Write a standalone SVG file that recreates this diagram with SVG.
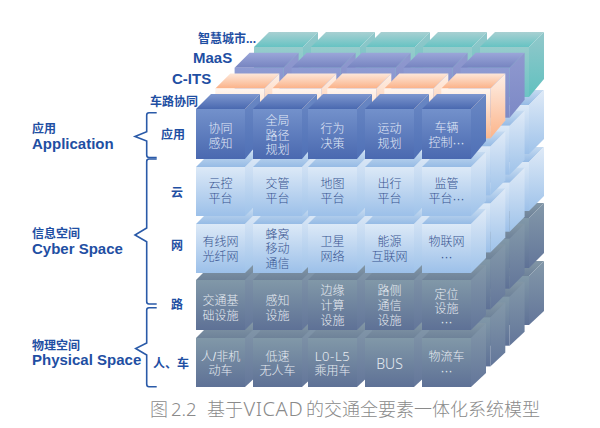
<svg xmlns="http://www.w3.org/2000/svg" xmlns:xlink="http://www.w3.org/1999/xlink" width="600" height="428" viewBox="0 0 600 428">
<style>
text{font-family:"Liberation Sans","Noto Sans CJK SC",sans-serif}
.h{fill:#1f4fa3;font-weight:700;font-size:12px}
.en{fill:#1f4fa3;font-weight:700;font-size:15px}
.t{font-size:12px;text-anchor:middle;font-weight:300}
.a{fill:#e2e9f7}.s{fill:#37538f}.r{fill:#e6ebf1}
text.lat{font-family:"Noto Sans",sans-serif}
.brace{fill:none;stroke:#2a5aa8;stroke-width:1.6}
text.cap{font-family:"Noto Sans","Noto Sans CJK SC",sans-serif;fill:#8a8a8a;font-size:18px;font-weight:300}
</style>
<defs>
<linearGradient id="afr" x1="0" y1="0" x2="0" y2="1"><stop offset="0" stop-color="#7391cb"/><stop offset="1" stop-color="#4a69b0"/></linearGradient>
<linearGradient id="atp" x1="0" y1="0" x2="0" y2="1"><stop offset="0" stop-color="#7e97cf"/><stop offset="1" stop-color="#4a69b0"/></linearGradient>
<linearGradient id="asd" x1="0" y1="0" x2="0" y2="1"><stop offset="0" stop-color="#6a88c4"/><stop offset="1" stop-color="#4f70b6"/></linearGradient>
<linearGradient id="ofr" x1="0" y1="0" x2="0" y2="1"><stop offset="0" stop-color="#fff6f0"/><stop offset="1" stop-color="#fbb78e"/></linearGradient>
<linearGradient id="otp" x1="0" y1="0" x2="0" y2="1"><stop offset="0" stop-color="#fde8da"/><stop offset="1" stop-color="#fbb288"/></linearGradient>
<linearGradient id="osd" x1="0" y1="0" x2="0" y2="1"><stop offset="0" stop-color="#fef0e7"/><stop offset="1" stop-color="#fbb48a"/></linearGradient>
<linearGradient id="pfr" x1="0" y1="0" x2="0" y2="1"><stop offset="0" stop-color="#8e9bd2"/><stop offset="1" stop-color="#7d8ac5"/></linearGradient>
<linearGradient id="ptp" x1="0" y1="0" x2="0" y2="1"><stop offset="0" stop-color="#9ba6d9"/><stop offset="1" stop-color="#7684c0"/></linearGradient>
<linearGradient id="psd" x1="0" y1="0" x2="0" y2="1"><stop offset="0" stop-color="#9099cf"/><stop offset="1" stop-color="#7c89c6"/></linearGradient>
<linearGradient id="tfr" x1="0" y1="0" x2="0" y2="1"><stop offset="0" stop-color="#97cccc"/><stop offset="1" stop-color="#6cc4c4"/></linearGradient>
<linearGradient id="ttp" x1="0" y1="0" x2="0" y2="1"><stop offset="0" stop-color="#a9d0d2"/><stop offset="1" stop-color="#66c3c3"/></linearGradient>
<linearGradient id="tsd" x1="0" y1="0" x2="0" y2="1"><stop offset="0" stop-color="#93c8cb"/><stop offset="1" stop-color="#60c1bf"/></linearGradient>
<linearGradient id="sfr" x1="0" y1="0" x2="0" y2="1"><stop offset="0" stop-color="#dce9f7"/><stop offset="1" stop-color="#9cc0e9"/></linearGradient>
<linearGradient id="stp" x1="0" y1="0" x2="0" y2="1"><stop offset="0" stop-color="#c6dbf1"/><stop offset="1" stop-color="#96bbe5"/></linearGradient>
<linearGradient id="ssd" x1="0" y1="0" x2="0" y2="1"><stop offset="0" stop-color="#dfeaf7"/><stop offset="1" stop-color="#9fc3ea"/></linearGradient>
<linearGradient id="rfr" x1="0" y1="0" x2="0" y2="1"><stop offset="0" stop-color="#8198a8"/><stop offset="1" stop-color="#5e7196"/></linearGradient>
<linearGradient id="rtp" x1="0" y1="0" x2="0" y2="1"><stop offset="0" stop-color="#8397a6"/><stop offset="1" stop-color="#6e8299"/></linearGradient>
<linearGradient id="rsd" x1="0" y1="0" x2="0" y2="1"><stop offset="0" stop-color="#8398a9"/><stop offset="1" stop-color="#63769a"/></linearGradient>

<g id="bA"><polygon points="0,0 15,-15 64,-15 49,0" fill="url(#atp)"/><polygon points="49,0 64,-15 64,32 49,50" fill="url(#asd)"/><rect width="49" height="50" fill="url(#afr)"/></g>
<g id="bO"><polygon points="0,0 15,-15 64,-15 49,0" fill="url(#otp)"/><polygon points="49,0 64,-15 64,32 49,50" fill="url(#osd)"/><rect width="49" height="50" fill="url(#ofr)"/></g>
<g id="bP"><polygon points="0,0 15,-15 64,-15 49,0" fill="url(#ptp)"/><polygon points="49,0 64,-15 64,32 49,50" fill="url(#psd)"/><rect width="49" height="50" fill="url(#pfr)"/></g>
<g id="bT"><polygon points="0,0 15,-15 64,-15 49,0" fill="url(#ttp)"/><polygon points="49,0 64,-15 64,32 49,50" fill="url(#tsd)"/><rect width="49" height="50" fill="url(#tfr)"/></g>
<g id="bS"><polygon points="0,0 15,-15 64,-15 49,0" fill="url(#stp)"/><polygon points="49,0 64,-15 64,34 49,49" fill="url(#ssd)"/><rect width="49" height="49" fill="url(#sfr)"/></g>
<g id="bR"><polygon points="0,0 15,-15 64,-15 49,0" fill="url(#rtp)"/><polygon points="49,0 64,-15 64,35 49,50" fill="url(#rsd)"/><rect width="49" height="50" fill="url(#rfr)"/></g>
<g id="bC"><polygon points="0,0 15,-15 64,-15 49,0" fill="url(#rtp)"/><polygon points="49,0 64,-15 64,35 49,49" fill="url(#rsd)"/><rect width="49" height="49" fill="url(#rfr)"/></g>

<g id="rowA"><use href="#bA"/><use href="#bA" x="57"/><use href="#bA" x="112"/><use href="#bA" x="169"/><use href="#bA" x="226"/></g>
<g id="rowO"><use href="#bO"/><use href="#bO" x="57"/><use href="#bO" x="112"/><use href="#bO" x="169"/><use href="#bO" x="226"/></g>
<g id="rowP"><use href="#bP"/><use href="#bP" x="57"/><use href="#bP" x="112"/><use href="#bP" x="169"/><use href="#bP" x="226"/></g>
<g id="rowT"><use href="#bT"/><use href="#bT" x="57"/><use href="#bT" x="112"/><use href="#bT" x="169"/><use href="#bT" x="226"/></g>
<g id="rowS"><use href="#bS"/><use href="#bS" x="57"/><use href="#bS" x="112"/><use href="#bS" x="169"/><use href="#bS" x="226"/></g>
<g id="rowR"><use href="#bR"/><use href="#bR" x="57"/><use href="#bR" x="112"/><use href="#bR" x="169"/><use href="#bR" x="226"/></g>
<g id="rowC"><use href="#bC"/><use href="#bC" x="57"/><use href="#bC" x="112"/><use href="#bC" x="169"/><use href="#bC" x="226"/></g>
<g id="lower"><use href="#rowC" x="196" y="338"/><use href="#rowR" x="196" y="280"/><use href="#rowS" x="196" y="224"/><use href="#rowS" x="196" y="167"/></g>
</defs>
<rect width="600" height="428" fill="#fff"/>

<g id="layer-smart-city" transform="translate(58,-62)"><use href="#lower"/><use href="#rowT" x="196" y="109"/></g>
<g id="layer-maas" transform="translate(38.6,-41.300)"><use href="#lower"/><use href="#rowP" x="196" y="109"/></g>
<g id="layer-c-its" transform="translate(19.3,-20.600)"><use href="#lower"/><use href="#rowO" x="196" y="109"/></g>

<g id="layer-front">
<g id="row-car">
<g id="c1"><use href="#bC" x="196" y="338"/><text class="t r" x="220.5" y="361">人/非机</text><text class="t r" x="220.5" y="375">动车</text></g>
<g id="c2"><use href="#bC" x="253" y="338"/><text class="t r" x="277.5" y="361">低速</text><text class="t r" x="277.5" y="375">无人车</text></g>
<g id="c3"><use href="#bC" x="308" y="338"/><text class="t r lat" x="332.5" y="361" style="font-size:13px;letter-spacing:.6px">L0-L5</text><text class="t r" x="332.5" y="375">乘用车</text></g>
<g id="c4"><use href="#bC" x="365" y="338"/><text class="t r lat" x="389.5" y="369" style="font-size:14px">BUS</text></g>
<g id="c5"><use href="#bC" x="422" y="338"/><text class="t r" x="446.5" y="361">物流车</text><text class="t r" x="446.5" y="375">···</text></g>
</g>
<g id="row-road">
<g id="r1"><use href="#bR" x="196" y="280"/><text class="t r" x="220.5" y="305">交通基</text><text class="t r" x="220.5" y="320">础设施</text></g>
<g id="r2"><use href="#bR" x="253" y="280"/><text class="t r" x="277.5" y="305">感知</text><text class="t r" x="277.5" y="320">设施</text></g>
<g id="r3"><use href="#bR" x="308" y="280"/><text class="t r" x="332.5" y="295">边缘</text><text class="t r" x="332.5" y="310">计算</text><text class="t r" x="332.5" y="325">设施</text></g>
<g id="r4"><use href="#bR" x="365" y="280"/><text class="t r" x="389.5" y="295">路侧</text><text class="t r" x="389.5" y="310">通信</text><text class="t r" x="389.5" y="325">设施</text></g>
<g id="r5"><use href="#bR" x="422" y="280"/><text class="t r" x="446.5" y="299">定位</text><text class="t r" x="446.5" y="313">设施</text><text class="t r" x="446.5" y="326">···</text></g>
</g>
<g id="row-net">
<g id="n1"><use href="#bS" x="196" y="224"/><text class="t s" x="220.5" y="246">有线网</text><text class="t s" x="220.5" y="261">光纤网</text></g>
<g id="n2"><use href="#bS" x="253" y="224"/><text class="t s" x="277.5" y="239">蜂窝</text><text class="t s" x="277.5" y="253">移动</text><text class="t s" x="277.5" y="268">通信</text></g>
<g id="n3"><use href="#bS" x="308" y="224"/><text class="t s" x="332.5" y="246">卫星</text><text class="t s" x="332.5" y="261">网络</text></g>
<g id="n4"><use href="#bS" x="365" y="224"/><text class="t s" x="389.5" y="246">能源</text><text class="t s" x="389.5" y="261">互联网</text></g>
<g id="n5"><use href="#bS" x="422" y="224"/><text class="t s" x="446.5" y="246">物联网</text><text class="t s" x="446.5" y="261">···</text></g>
</g>
<g id="row-cloud">
<g id="y1"><use href="#bS" x="196" y="167"/><text class="t s" x="220.5" y="188">云控</text><text class="t s" x="220.5" y="203">平台</text></g>
<g id="y2"><use href="#bS" x="253" y="167"/><text class="t s" x="277.5" y="188">交管</text><text class="t s" x="277.5" y="203">平台</text></g>
<g id="y3"><use href="#bS" x="308" y="167"/><text class="t s" x="332.5" y="188">地图</text><text class="t s" x="332.5" y="203">平台</text></g>
<g id="y4"><use href="#bS" x="365" y="167"/><text class="t s" x="389.5" y="188">出行</text><text class="t s" x="389.5" y="203">平台</text></g>
<g id="y5"><use href="#bS" x="422" y="167"/><text class="t s" x="446.5" y="188">监管</text><text class="t s" x="446.5" y="203">平台···</text></g>
</g>
<g id="row-app">
<g id="a1"><use href="#bA" x="196" y="109"/><text class="t a" x="220.5" y="133">协同</text><text class="t a" x="220.5" y="148">感知</text></g>
<g id="a2"><use href="#bA" x="253" y="109"/><text class="t a" x="277.5" y="125">全局</text><text class="t a" x="277.5" y="139.500">路径</text><text class="t a" x="277.5" y="154">规划</text></g>
<g id="a3"><use href="#bA" x="308" y="109"/><text class="t a" x="332.5" y="133">行为</text><text class="t a" x="332.5" y="148">决策</text></g>
<g id="a4"><use href="#bA" x="365" y="109"/><text class="t a" x="389.5" y="133">运动</text><text class="t a" x="389.5" y="148">规划</text></g>
<g id="a5"><use href="#bA" x="422" y="109"/><text class="t a" x="446.5" y="132">车辆</text><text class="t a" x="446.5" y="147">控制···</text></g>
</g>
</g>

<g id="connectors">
<path class="brace" d="M156.700 112.700H149Q146.700 112.700 146.700 115V131.700L135 136.500L146.700 141V155Q146.700 157.500 149 157.500H156.700"/>
<path class="brace" d="M156.700 159H149Q146.700 159 146.700 161.500V228L135 235L146.700 241.700V301.500Q146.700 304 149 304H156.700"/>
<path class="brace" d="M156.700 307.700H149Q146.700 307.700 146.700 310V343L135.700 348.500L146.700 355V384Q146.700 386.700 149 386.700H156.700"/>
</g>

<g id="labels">
<text class="h" x="32" y="133">应用</text><text class="en" x="32" y="149">Application</text>
<text class="h" x="32" y="237.500">信息空间</text><text class="en" x="32" y="254">Cyber Space</text>
<text class="h" x="32" y="349.500">物理空间</text><text class="en" x="32" y="365">Physical Space</text>
<text class="h" x="161" y="139">应用</text>
<text class="h" x="171" y="197">云</text>
<text class="h" x="171" y="250">网</text>
<text class="h" x="171" y="309">路</text>
<text class="h" x="153" y="368">人、车</text>
<text class="h" x="150" y="106">车路协同</text>
<text class="en" x="172" y="84">C-ITS</text>
<text class="en" x="193" y="63">MaaS</text>
<text class="h" x="198" y="43">智慧城市...</text>
</g>
<text class="cap" y="416"><tspan x="150">图 </tspan><tspan x="171" style="font-size:18.500px">2.2 </tspan><tspan x="207">基于</tspan><tspan x="243.500" style="font-size:20px;letter-spacing:.6px">VICAD</tspan><tspan x="306">的交通全要素一体化系统模型</tspan></text>
</svg>
